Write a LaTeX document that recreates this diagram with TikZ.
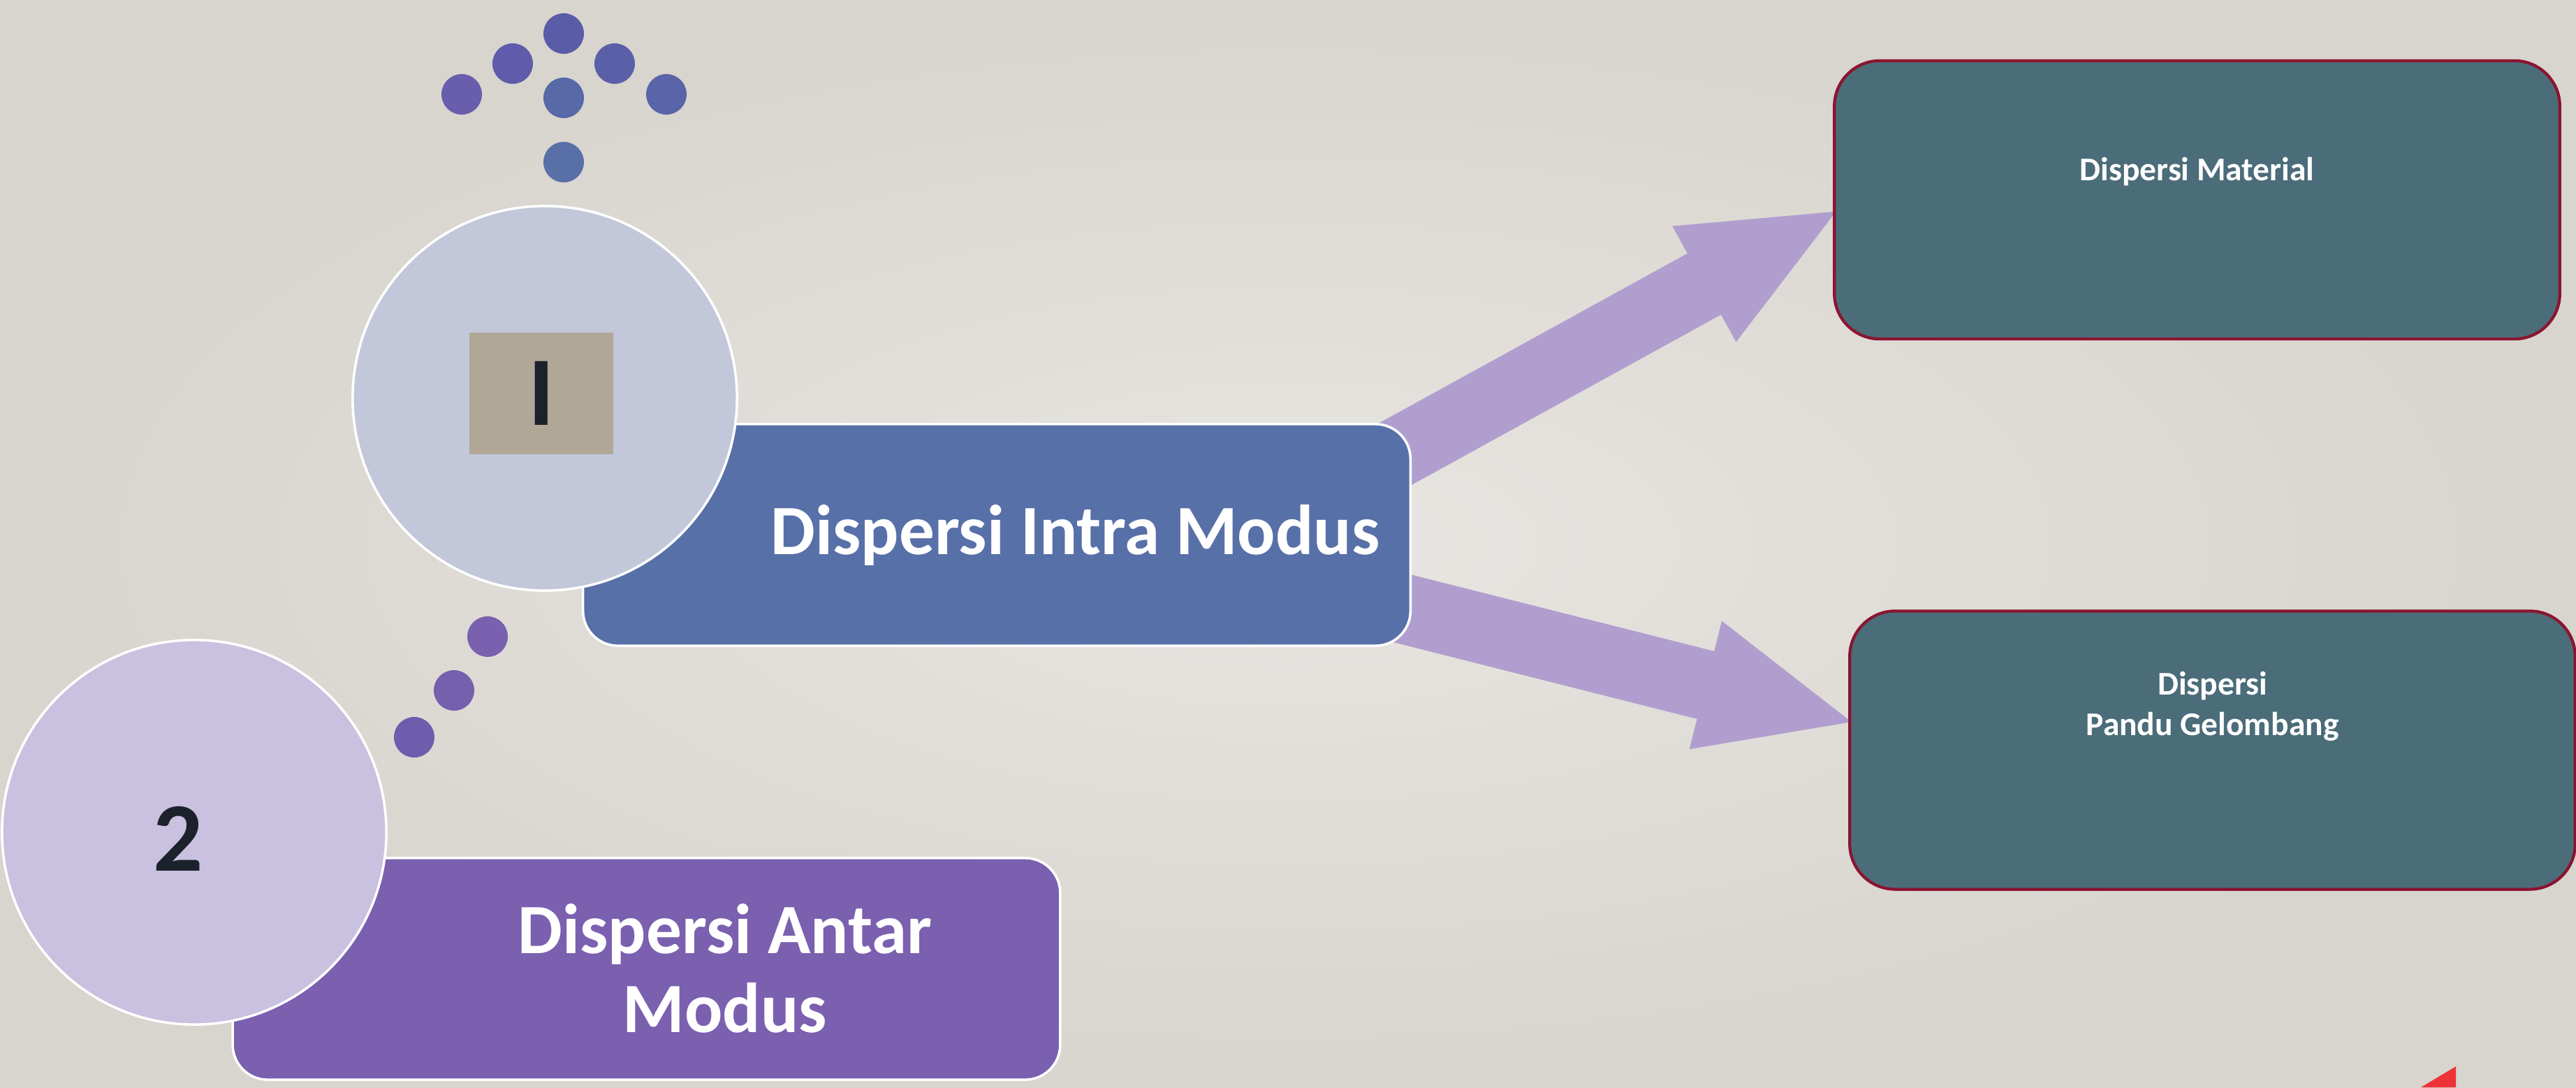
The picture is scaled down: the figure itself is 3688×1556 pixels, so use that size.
\documentclass[tikz,border=0pt]{standalone}
\usepackage{fontspec}
\setmainfont{Carlito}
\usetikzlibrary{positioning,arrows.meta}
\definecolor{bgin}{HTML}{E8E6E2}
\definecolor{bgout}{HTML}{D8D4CE}
\definecolor{intrablue}{HTML}{5870A8}
\definecolor{antarpurple}{HTML}{7A60AF}
\definecolor{bubbleone}{HTML}{C2C8DA}
\definecolor{bubbletwo}{HTML}{C9C1DF}
\definecolor{tagtan}{HTML}{B0A797}
\definecolor{numink}{HTML}{1B222B}
\definecolor{leafteal}{HTML}{4B6C79}
\definecolor{leafedge}{HTML}{8A1530}
\definecolor{arrowlilac}{HTML}{B09FCE}
\definecolor{cornerred}{HTML}{EE3338}
\definecolor{dotA}{HTML}{5B5CA8}
\definecolor{dotB}{HTML}{615BAB}
\definecolor{dotC}{HTML}{5A60A8}
\definecolor{dotD}{HTML}{685EAC}
\definecolor{dotE}{HTML}{5769A6}
\definecolor{dotF}{HTML}{5A64A8}
\definecolor{dotG}{HTML}{586FA8}
\definecolor{dotH}{HTML}{7A61AF}
\definecolor{dotI}{HTML}{7560AD}
\definecolor{dotJ}{HTML}{6C5EAD}
\pgfdeclarelayer{backdrop}
\pgfdeclarelayer{behind}
\pgfsetlayers{backdrop,behind,main}
\begin{document}
\begin{tikzpicture}[x=0.01cm,y=0.01cm,
  bubble/.style={circle,draw=white,line width=1pt,minimum size=5.5cm,inner sep=0pt},
  modebox/.style={rounded corners=0.5cm,draw=white,line width=1pt,minimum width=11.84cm,minimum height=3.17cm},
  leafbox/.style={rounded corners=0.65cm,draw=leafedge,line width=1.2pt,fill=leafteal,minimum width=10.38cm,minimum height=3.98cm},
  tagbox/.style={fill=tagtan,minimum width=2.05cm,minimum height=1.74cm,inner sep=0pt},
  bigtext/.style={text=white,font=\fontsize{28.8}{32}\selectfont\bfseries,inner sep=0pt,align=center},
  leaftext/.style={text=white,font=\fontsize{13.5}{16.5}\selectfont\bfseries,inner sep=0pt,align=center},
  numtext/.style={text=numink,font=\fontsize{40}{40}\selectfont\bfseries,inner sep=0pt},
  fatarrow/.style={line width=1cm,draw=arrowlilac,-{Triangle[width=1.7cm,length=2.25cm]}}]
\useasboundingbox (0,0) rectangle (3688,-1556);
\begin{pgfonlayer}{backdrop}
\shade[inner color=bgin,outer color=bgout] (0,0) rectangle (3688,-1556);
\end{pgfonlayer}
% first mode
\node[modebox,fill=intrablue] (intra) at (1427,-765.5) {};
\node[bubble,fill=bubbleone] (one) at (780,-570) {};
\node[tagbox,numtext] (onetag) at (775,-563) {I};
\node[bigtext,left=0.45cm of intra.east] (intratext) {Dispersi Intra Modus};
% second mode
\node[modebox,fill=antarpurple] (antar) at (925.5,-1386.5) {};
\node[bubble,fill=bubbletwo] (two) at (278,-1191) {};
\node[numtext] (twonum) at (255,-1200) {2};
\node[bigtext] (antartext) at (1038,-1386) {Dispersi Antar\\Modus};
% leaves
\node[leafbox] (material) at (3145.5,-286) {};
\node[leaftext,below=1.40cm of material.north] (materialtext) {Dispersi Material};
\node[leafbox] (guide) at (3167.5,-1073.5) {};
\node[leaftext,below=0.88cm of guide.north] (guidetext) {Dispersi\\Pandu Gelombang};
% dots
\foreach \px/\py/\dotc in {807/48/dotA,734/91/dotB,880/91/dotC,661/135/dotD,807/140/dotE,954/135/dotF,807/232/dotG,698/911/dotH,650/988/dotI,593/1055/dotJ}
  \fill[\dotc] (\px,-\py) circle (29);
% arrows
\coordinate (upstart) at (1928,-688);
\coordinate (downstart) at (1874,-837);
\begin{pgfonlayer}{behind}
\draw[fatarrow] (upstart) -- ([xshift=0.13cm,yshift=-0.12cm]material.west);
\draw[fatarrow] (downstart) -- ([xshift=0.14cm,yshift=0.38cm]guide.west);
\end{pgfonlayer}
\fill[cornerred] (3516,-1526) -- (3466,-1556) -- (3516,-1556) -- cycle;
\end{tikzpicture}
\end{document}
